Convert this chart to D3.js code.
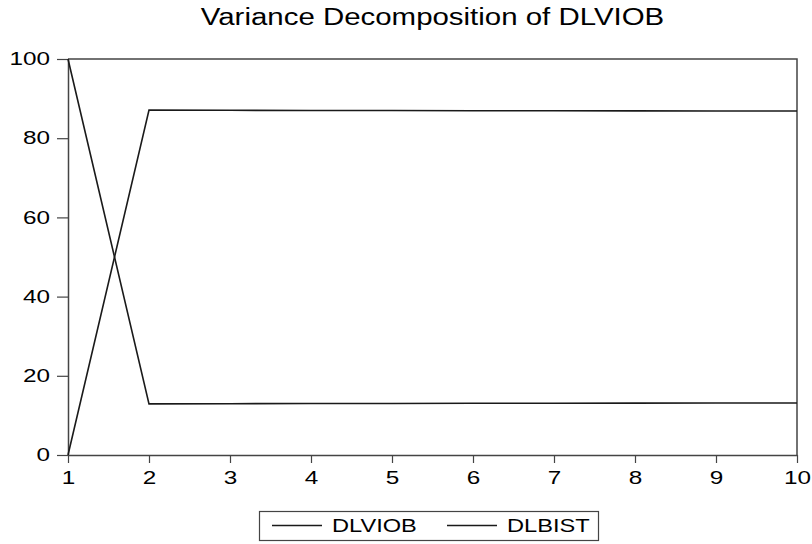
<!DOCTYPE html>
<html>
<head>
<meta charset="utf-8">
<script src="https://cdn.jsdelivr.net/npm/d3@7"></script>
<style>
  html, body { margin: 0; padding: 0; background: #fff; }
  svg { display: block; font-family: "Liberation Sans", Arial, sans-serif; }
</style>
</head>
<body>
<svg id="chart" width="812" height="544"></svg>
<script>
// Forecast horizons (periods)
const periods = [1, 2, 3, 4, 5, 6, 7, 8, 9, 10];
// Share of forecast error variance of DLVIOB (%)
const dlviob = [100, 12.92, 12.95, 13.0, 13.02, 13.05, 13.08, 13.1, 13.12, 13.14];
const dlbist = [0, 87.08, 87.05, 87.0, 86.98, 86.95, 86.92, 86.9, 86.88, 86.86];
const yTicks = [0, 20, 40, 60, 80, 100];
const seriesNames = ["DLVIOB", "DLBIST"];
const title = "Variance Decomposition of DLVIOB";

const svg = d3.select("#chart");
const margin = { left: 68, right: 15, top: 59, bottom: 89 };
const W = 812, H = 544;
const sx = 1.35;          // horizontal stretch of the lettering
const fontFam = "Liberation Sans, Arial, sans-serif";

const x = d3.scaleLinear().domain([1, 10]).range([margin.left, W - margin.right]);
const y = d3.scaleLinear().domain([0, 100]).range([H - margin.bottom, margin.top]);

const ink = "#1a1a1a";

// Title
svg.append("g")
  .attr("transform", `translate(${(x.range()[0] + x.range()[1]) / 2},25) scale(1.28,1)`)
  .append("text")
  .attr("text-anchor", "middle")
  .attr("font-size", 23)
  .attr("fill", "#000")
  .text(title);

// Frame (top and right edges)
svg.append("path")
  .attr("d", `M${x(1)},${y(100)}H${x(10)}V${y(0)}`)
  .attr("fill", "none")
  .attr("stroke", "#444")
  .attr("stroke-width", 1.5);

// Y axis
const yAxis = d3.axisLeft(y).tickValues(yTicks).tickSize(11).tickPadding(7).tickSizeOuter(0);
const gy = svg.append("g").attr("transform", `translate(${x(1)},0)`).call(yAxis);
gy.select(".domain").attr("stroke", "#444").attr("stroke-width", 1.5);
gy.selectAll(".tick line").attr("stroke", "#444").attr("stroke-width", 1.2);
gy.selectAll(".tick text")
  .attr("font-size", 18).attr("fill", "#000").attr("font-family", fontFam)
  .attr("x", -18 / sx)
  .attr("transform", `scale(${sx},1)`);

// X axis
const xAxis = d3.axisBottom(x).tickValues(periods).tickSize(8).tickPadding(8).tickSizeOuter(0);
const gx = svg.append("g").attr("transform", `translate(0,${y(0)})`).call(xAxis);
gx.select(".domain").attr("stroke", "#444").attr("stroke-width", 1.5);
gx.selectAll(".tick line").attr("stroke", "#444").attr("stroke-width", 1.2);
gx.selectAll(".tick text")
  .attr("font-size", 18).attr("fill", "#000").attr("font-family", fontFam)
  .attr("transform", `scale(${sx},1)`);

// Series lines
const line = d3.line().x((d, i) => x(periods[i])).y(d => y(d));
[dlviob, dlbist].forEach(vals => {
  svg.append("path")
    .datum(vals)
    .attr("d", line)
    .attr("fill", "none")
    .attr("stroke", ink)
    .attr("stroke-width", 1.6);
});

// Legend
const legend = svg.append("g");
legend.append("rect")
  .attr("x", 259.5).attr("y", 511.5)
  .attr("width", 339).attr("height", 29)
  .attr("fill", "#fff").attr("stroke", "#444").attr("stroke-width", 1.2);
const legendItems = [
  { name: seriesNames[0], x0: 272, tx: 332 },
  { name: seriesNames[1], x0: 447, tx: 507 }
];
legendItems.forEach(it => {
  legend.append("line")
    .attr("x1", it.x0).attr("x2", it.x0 + 50)
    .attr("y1", 525.5).attr("y2", 525.5)
    .attr("stroke", ink).attr("stroke-width", 1.4);
  legend.append("g")
    .attr("transform", `translate(${it.tx},532) scale(${sx},1)`)
    .append("text")
    .attr("font-size", 17.5).attr("fill", "#000")
    .text(it.name);
});
</script>
</body>
</html>
